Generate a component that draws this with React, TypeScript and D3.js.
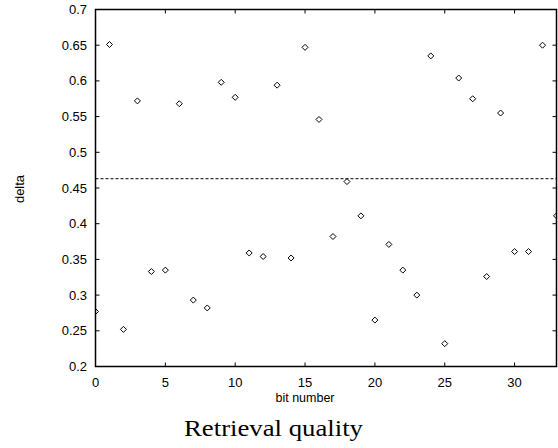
import React from "react";
import * as d3 from "d3";

// bit index -> delta value
const bits = [
  0, 1, 2, 3, 4, 5, 6, 7, 8, 9, 10, 11, 12, 13, 14, 15, 16,
  17, 18, 19, 20, 21, 22, 23, 24, 25, 26, 27, 28, 29, 30, 31, 32, 33,
];
const delta = [
  0.277, 0.651, 0.252, 0.572, 0.333, 0.335, 0.568, 0.293, 0.282, 0.598,
  0.577, 0.359, 0.354, 0.594, 0.352, 0.647, 0.546, 0.382, 0.459, 0.411,
  0.265, 0.371, 0.335, 0.300, 0.635, 0.232, 0.604, 0.575, 0.326, 0.555,
  0.361, 0.361, 0.650, 0.411,
];
const threshold = 0.463;
const xTicks = [0, 5, 10, 15, 20, 25, 30];
const yTicks = [0.2, 0.25, 0.3, 0.35, 0.4, 0.45, 0.5, 0.55, 0.6, 0.65, 0.7];

const W = 558;
const H = 448;
const left = 95.5;
const right = 556.5;
const top = 9.5;
const bottom = 366.5;

export default function App() {
  const x = d3.scaleLinear().domain([0, 33]).range([left, right]);
  const y = d3.scaleLinear().domain([0.2, 0.7]).range([bottom, top]);
  const font = "'Liberation Sans', Arial, sans-serif";
  const tick = 4;

  // small open diamond like gnuplot's point type
  const diamond = (cx: number, cy: number) =>
    `M${cx},${cy - 3}L${cx + 3},${cy}L${cx},${cy + 3}L${cx - 3},${cy}Z`;

  return (
    <svg
      width={W}
      height={H}
      style={{ position: "absolute", left: 0, top: 0, background: "#fff" }}
    >
      <defs>
        <clipPath id="plot">
          <rect x={left} y={top} width={right - left} height={bottom - top} />
        </clipPath>
      </defs>

      {/* y ticks, left and mirrored right */}
      {yTicks.map((t) => (
        <g key={"y" + t}>
          <line x1={left} x2={left + tick} y1={y(t)} y2={y(t)} stroke="#000" />
          <line x1={right} x2={right - tick} y1={y(t)} y2={y(t)} stroke="#000" />
          <text
            x={87}
            y={y(t)}
            dy="0.35em"
            textAnchor="end"
            fontFamily={font}
            fontSize={13}
            fill="#000"
          >
            {d3.format("")(+t.toFixed(2))}
          </text>
        </g>
      ))}

      {/* x ticks, bottom and mirrored top */}
      {xTicks.map((t) => (
        <g key={"x" + t}>
          <line x1={x(t)} x2={x(t)} y1={bottom} y2={bottom - tick} stroke="#000" />
          <line x1={x(t)} x2={x(t)} y1={top} y2={top + tick} stroke="#000" />
          <text
            x={x(t)}
            y={387}
            textAnchor="middle"
            fontFamily={font}
            fontSize={13}
            fill="#000"
          >
            {t}
          </text>
        </g>
      ))}

      {/* threshold */}
      <line
        x1={left}
        x2={right}
        y1={y(threshold)}
        y2={y(threshold)}
        stroke="#000"
        strokeWidth={1}
        strokeDasharray="3,2"
      />

      <g clipPath="url(#plot)">
        {bits.map((b, i) => (
          <path
            key={b}
            d={diamond(x(b), y(delta[i]))}
            fill="none"
            stroke="#000"
            strokeWidth={1}
          />
        ))}
      </g>

      <rect
        x={left}
        y={top}
        width={right - left}
        height={bottom - top}
        fill="none"
        stroke="#000"
        strokeWidth={1.5}
      />

      <text
        x={305}
        y={402}
        textAnchor="middle"
        fontFamily={font}
        fontSize={12.5}
        fill="#000"
      >
        bit number
      </text>
      <text
        transform="translate(24,189) rotate(-90)"
        textAnchor="middle"
        fontFamily={font}
        fontSize={13}
        fill="#000"
      >
        delta
      </text>
      <text
        x={273.5}
        y={436}
        textAnchor="middle"
        fontFamily="'Liberation Serif', 'DejaVu Serif', serif"
        fontSize={24}
        textLength={179}
        lengthAdjust="spacingAndGlyphs"
        fill="#000"
      >
        Retrieval quality
      </text>
    </svg>
  );
}
